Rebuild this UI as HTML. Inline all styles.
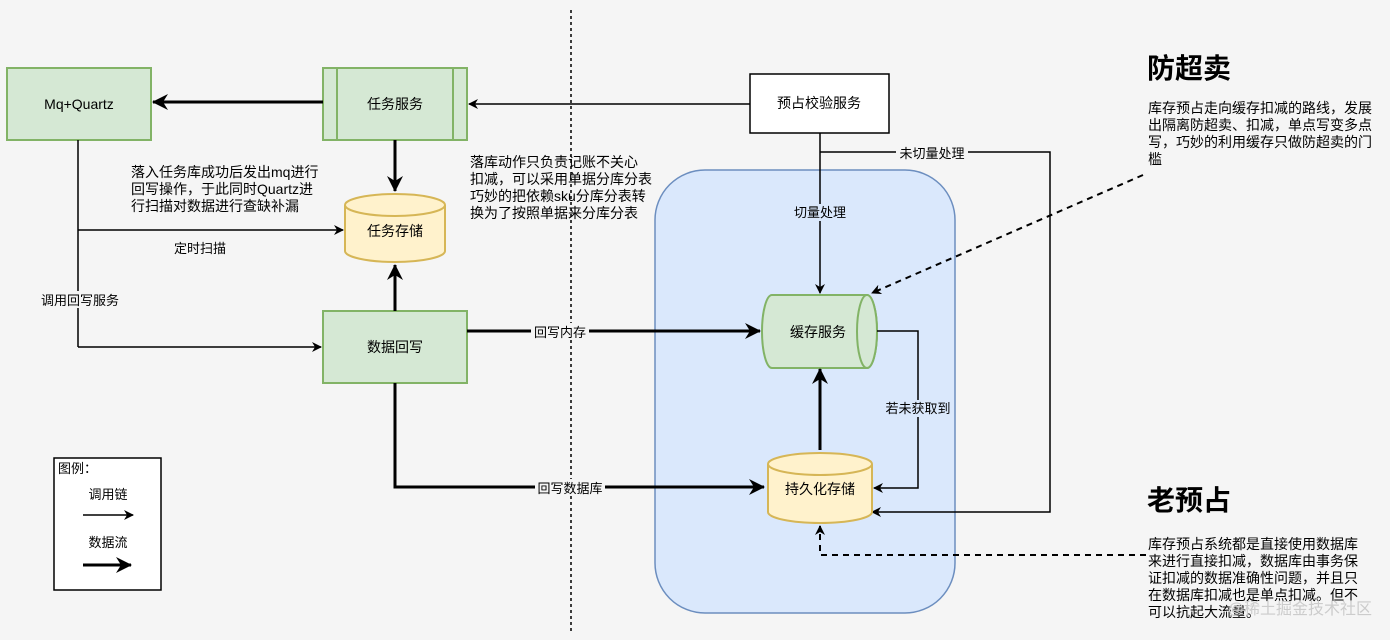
<!DOCTYPE html>
<html><head><meta charset="utf-8"><style>
html,body{margin:0;padding:0;background:#f5f5f5;}
svg{display:block;font-family:"Liberation Sans","Noto Sans CJK SC",sans-serif;}
</style></head><body>
<svg width="1390" height="640" viewBox="0 0 1390 640" xmlns="http://www.w3.org/2000/svg">
<defs>
<marker id="a" markerWidth="10" markerHeight="10" refX="9" refY="5" orient="auto" markerUnits="userSpaceOnUse"><path d="M0,0 L10,5 L0,10 L3,5 Z" fill="#000"/></marker>
<marker id="b" markerWidth="16" markerHeight="16" refX="15" refY="8" orient="auto" markerUnits="userSpaceOnUse"><path d="M0,0 L16,8 L0,16 L5,8 Z" fill="#000"/></marker>
</defs>
<rect width="1390" height="640" fill="#f5f5f5"/>
<line x1="571" y1="10" x2="571" y2="632" stroke="#000" stroke-width="1.5" stroke-dasharray="3,3"/>
<rect x="655" y="170" width="300" height="443" rx="50" fill="#dae8fc" stroke="#6c8ebf" stroke-width="1.5"/>

<rect x="7" y="68" width="144" height="72" fill="#d5e8d4" stroke="#82b366" stroke-width="2"/>
<text x="79" y="109" font-size="14" text-anchor="middle">Mq+Quartz</text>
<rect x="323" y="68" width="144" height="72" fill="#d5e8d4" stroke="#82b366" stroke-width="2"/>
<line x1="337" y1="68" x2="337" y2="140" stroke="#82b366" stroke-width="2"/>
<line x1="453" y1="68" x2="453" y2="140" stroke="#82b366" stroke-width="2"/>
<text x="395" y="109" font-size="14" text-anchor="middle">任务服务</text>
<rect x="750" y="74" width="139" height="59" fill="#fff" stroke="#000" stroke-width="1.5"/>
<text x="819" y="108" font-size="14" text-anchor="middle">预占校验服务</text>

<line x1="323" y1="102" x2="153" y2="102" stroke="#000" stroke-width="3" marker-end="url(#b)"/>
<line x1="750" y1="104" x2="469" y2="104" stroke="#000" stroke-width="1.5" marker-end="url(#a)"/>
<line x1="395" y1="140" x2="395" y2="191" stroke="#000" stroke-width="3" marker-end="url(#b)"/>

<path d="M345,205 v46 a50,11 0 0 0 100,0 v-46" fill="#fff2cc" stroke="#d6b656" stroke-width="2"/>
<ellipse cx="395" cy="205" rx="50" ry="11" fill="#fff2cc" stroke="#d6b656" stroke-width="2"/>
<text x="395" y="236" font-size="14" text-anchor="middle">任务存储</text>

<text font-size="14"><tspan x="131" y="177">落入任务库成功后发出mq进行</tspan><tspan x="131" y="194">回写操作，于此同时Quartz进</tspan><tspan x="131" y="211">行扫描对数据进行查缺补漏</tspan></text>
<text font-size="14"><tspan x="470" y="167">落库动作只负责记账不关心</tspan><tspan x="470" y="184">扣减，可以采用单据分库分表</tspan><tspan x="470" y="201">巧妙的把依赖sku分库分表转</tspan><tspan x="470" y="218">换为了按照单据来分库分表</tspan></text>

<line x1="78" y1="140" x2="78" y2="347" stroke="#000" stroke-width="1.5"/>
<line x1="78" y1="230" x2="343" y2="230" stroke="#000" stroke-width="1.5" marker-end="url(#a)"/>
<text x="200" y="253" font-size="13" text-anchor="middle">定时扫描</text>
<line x1="78" y1="347" x2="321" y2="347" stroke="#000" stroke-width="1.5" marker-end="url(#a)"/>
<rect x="40" y="291" width="80" height="17" fill="#f5f5f5"/>
<text x="80" y="305" font-size="13" text-anchor="middle">调用回写服务</text>

<rect x="323" y="311" width="144" height="72" fill="#d5e8d4" stroke="#82b366" stroke-width="2"/>
<text x="395" y="352" font-size="14" text-anchor="middle">数据回写</text>
<line x1="395" y1="311" x2="395" y2="265" stroke="#000" stroke-width="3" marker-end="url(#b)"/>

<line x1="467" y1="331" x2="760" y2="331" stroke="#000" stroke-width="3" marker-end="url(#b)"/>
<rect x="531" y="323" width="58" height="17" fill="#f5f5f5"/>
<text x="560" y="337" font-size="13" text-anchor="middle">回写内存</text>
<polyline points="395,383 395,487 764,487" fill="none" stroke="#000" stroke-width="3" marker-end="url(#b)"/>
<rect x="535" y="479" width="70" height="17" fill="#f5f5f5"/>
<text x="570" y="493" font-size="13" text-anchor="middle">回写数据库</text>

<line x1="820" y1="133" x2="820" y2="293" stroke="#000" stroke-width="1.5" marker-end="url(#a)"/>
<rect x="792" y="204" width="56" height="17" fill="#dae8fc"/>
<text x="820" y="217" font-size="13" text-anchor="middle">切量处理</text>
<polyline points="820,152 1050,152 1050,512 872,512" fill="none" stroke="#000" stroke-width="1.5" marker-end="url(#a)"/>
<rect x="896" y="144" width="72" height="17" fill="#f5f5f5"/>
<text x="932" y="158" font-size="13" text-anchor="middle">未切量处理</text>

<path d="M772,295 h95 a10,36.5 0 0 1 0,73 h-95 a10,36.5 0 0 1 0,-73 Z" fill="#d5e8d4" stroke="#82b366" stroke-width="2"/>
<ellipse cx="867" cy="331.5" rx="10" ry="36.5" fill="#d5e8d4" stroke="#82b366" stroke-width="2"/>
<text x="818" y="337" font-size="14" text-anchor="middle">缓存服务</text>

<polyline points="877,331 918,331 918,488 874,488" fill="none" stroke="#000" stroke-width="1.5" marker-end="url(#a)"/>
<rect x="882" y="400" width="72" height="17" fill="#dae8fc"/>
<text x="918" y="413" font-size="13" text-anchor="middle">若未获取到</text>

<path d="M768,464 v48 a52,11 0 0 0 104,0 v-48" fill="#fff2cc" stroke="#d6b656" stroke-width="2"/>
<ellipse cx="820" cy="464" rx="52" ry="11" fill="#fff2cc" stroke="#d6b656" stroke-width="2"/>
<text x="820" y="494" font-size="14" text-anchor="middle">持久化存储</text>
<line x1="820" y1="450" x2="820" y2="369" stroke="#000" stroke-width="3" marker-end="url(#b)"/>

<line x1="1143" y1="175" x2="872" y2="293" stroke="#000" stroke-width="2" stroke-dasharray="6,5" marker-end="url(#a)"/>
<polyline points="1146,555 820,555 820,526" fill="none" stroke="#000" stroke-width="2" stroke-dasharray="6,5" marker-end="url(#a)"/>

<text x="1147" y="78" font-size="28" font-weight="bold">防超卖</text>
<text font-size="14"><tspan x="1148" y="113">库存预占走向缓存扣减的路线，发展</tspan><tspan x="1148" y="130">出隔离防超卖、扣减，单点写变多点</tspan><tspan x="1148" y="147">写，巧妙的利用缓存只做防超卖的门</tspan><tspan x="1148" y="164">槛</tspan></text>
<text x="1147" y="510" font-size="28" font-weight="bold">老预占</text>
<text font-size="14"><tspan x="1148" y="549">库存预占系统都是直接使用数据库</tspan><tspan x="1148" y="566">来进行直接扣减，数据库由事务保</tspan><tspan x="1148" y="583">证扣减的数据准确性问题，并且只</tspan><tspan x="1148" y="600">在数据库扣减也是单点扣减。但不</tspan><tspan x="1148" y="617">可以抗起大流量。</tspan></text>
<text x="1372" y="614" font-size="16" fill="#ccc" text-anchor="end">@稀土掘金技术社区</text>

<rect x="54" y="458" width="107" height="132" fill="#fff" stroke="#000" stroke-width="1.5"/>
<text x="58" y="473" font-size="13">图例：</text>
<text x="108" y="499" font-size="13" text-anchor="middle">调用链</text>
<line x1="83" y1="515" x2="133" y2="515" stroke="#000" stroke-width="1.5" marker-end="url(#a)"/>
<text x="108" y="547" font-size="13" text-anchor="middle">数据流</text>
<line x1="83" y1="565" x2="131" y2="565" stroke="#000" stroke-width="3" marker-end="url(#b)"/>
</svg>
</body></html>
